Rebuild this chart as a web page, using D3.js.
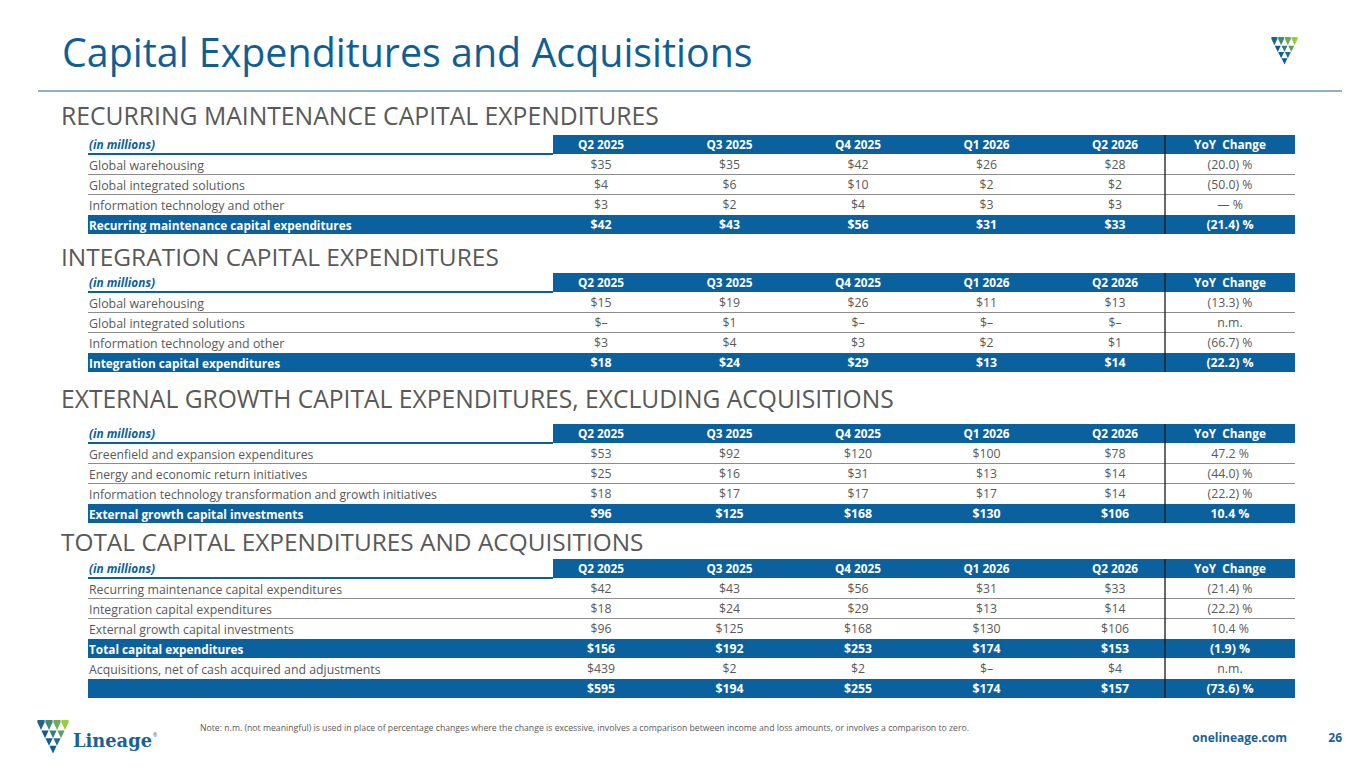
<!DOCTYPE html>
<html><head><meta charset="utf-8">
<script src="https://cdn.jsdelivr.net/npm/d3@7"></script>
<style>html,body{margin:0;padding:0;background:#fff;overflow:hidden}</style>
</head><body>
<svg id="c" width="1365" height="768"></svg>
<script>
// ---------- DATA ----------
const quarters = ["Q2 2025","Q3 2025","Q4 2025","Q1 2026","Q2 2026"];
const yoyHeader = "YoY  Change";
const unitLabel = "(in millions)";

const maintLabels = ["Global warehousing","Global integrated solutions","Information technology and other","Recurring maintenance capital expenditures"];
const maintValues = [[35,35,42,26,28],[4,6,10,2,2],[3,2,4,3,3],[42,43,56,31,33]];
const maintYoY = ["(20.0) %","(50.0) %","— %","(21.4) %"];

const integLabels = ["Global warehousing","Global integrated solutions","Information technology and other","Integration capital expenditures"];
const integValues = [[15,19,26,11,13],[null,1,null,null,null],[3,4,3,2,1],[18,24,29,13,14]];
const integYoY = ["(13.3) %","n.m.","(66.7) %","(22.2) %"];

const extLabels = ["Greenfield and expansion expenditures","Energy and economic return initiatives","Information technology transformation and growth initiatives","External growth capital investments"];
const extValues = [[53,92,120,100,78],[25,16,31,13,14],[18,17,17,17,14],[96,125,168,130,106]];
const extYoY = ["47.2 %","(44.0) %","(22.2) %","10.4 %"];

const totLabels = ["Recurring maintenance capital expenditures","Integration capital expenditures","External growth capital investments","Total capital expenditures","Acquisitions, net of cash acquired and adjustments",""];
const totValues = [[42,43,56,31,33],[18,24,29,13,14],[96,125,168,130,106],[156,192,253,174,153],[439,2,2,null,4],[595,194,255,174,157]];
const totYoY = ["(21.4) %","(22.2) %","10.4 %","(1.9) %","n.m.","(73.6) %"];
const totHighlight = [false,false,false,true,false,true];

const sections = [
  {title:"RECURRING MAINTENANCE CAPITAL EXPENDITURES", labels:maintLabels, values:maintValues, yoy:maintYoY, hl:[false,false,false,true]},
  {title:"INTEGRATION CAPITAL EXPENDITURES", labels:integLabels, values:integValues, yoy:integYoY, hl:[false,false,false,true]},
  {title:"EXTERNAL GROWTH CAPITAL EXPENDITURES, EXCLUDING ACQUISITIONS", labels:extLabels, values:extValues, yoy:extYoY, hl:[false,false,false,true]},
  {title:"TOTAL CAPITAL EXPENDITURES AND ACQUISITIONS", labels:totLabels, values:totValues, yoy:totYoY, hl:totHighlight}
];
const noteText = "Note: n.m. (not meaningful) is used in place of percentage changes where the change is excessive, involves a comparison between income and loss amounts, or involves a comparison to zero.";

// ---------- STYLE / LAYOUT ----------
const BLUE = "#0b619d", GRAY = "#595959", TITLE = "#0f5f94";
const FONT = "'Open Sans', 'Noto Sans', sans-serif";
const svg = d3.select("#c");
const fmt = v => v == null ? "$–" : "$" + v;

function fit(sel, w){
  const cur = sel.node().getComputedTextLength();
  const fs = parseFloat(sel.attr("font-size"));
  sel.attr("font-size", fs * w / cur);
  return sel;
}

// Title
fit(svg.append("text").attr("x",62).attr("y",67).attr("font-family",FONT)
  .attr("font-size",36).attr("fill",TITLE).text("Capital Expenditures and Acquisitions"), 691);
svg.append("line").attr("x1",38).attr("x2",1342).attr("y1",91).attr("y2",91)
  .attr("stroke","#8fb0c6").attr("stroke-width",1.8);

// Column scales
const tableLeft = 88, tableRight = 1295, headLeft = 553, divX = 1165;
const xq = d3.scalePoint().domain(quarters).range([601,1115]);
const xYoY = (divX + tableRight) / 2;
const rowH = 20;

const headingY = [125, 266, 408, 551];
const tableTop = [135, 273, 424, 559];
const headingW = [598, 438, 833, 583];
const labelSize = [12.4, 12.4, 12.2, 12.3];

sections.forEach((s, si) => {
  fit(svg.append("text").attr("x",61).attr("y",headingY[si]).attr("font-family",FONT)
    .attr("font-size",22).attr("fill",GRAY).text(s.title), headingW[si]);

  const top = tableTop[si];
  const nRows = s.labels.length;
  const yRow = d3.scaleBand().domain(d3.range(nRows + 1)).range([top, top + rowH*(nRows+1)]);
  const g = svg.append("g");

  g.append("rect").attr("x",headLeft).attr("y",top).attr("width",tableRight-headLeft).attr("height",rowH-1).attr("fill",BLUE);
  g.append("line").attr("x1",tableLeft).attr("x2",headLeft).attr("y1",top+rowH-1).attr("y2",top+rowH-1)
    .attr("stroke",BLUE).attr("stroke-width",2);
  g.append("text").attr("x",89).attr("y",top+14).attr("font-family",FONT).attr("font-size",11.8)
    .attr("font-weight","bold").attr("font-style","italic").attr("fill",BLUE).text(unitLabel);
  g.selectAll(".qh").data(quarters).join("text")
    .attr("x",d=>xq(d)).attr("y",top+14).attr("text-anchor","middle").attr("font-family",FONT)
    .attr("font-size",11.8).attr("font-weight","bold").attr("fill","#fff").text(d=>d);
  g.append("text").attr("x",xYoY).attr("y",top+14).attr("text-anchor","middle").attr("font-family",FONT)
    .attr("font-size",11.8).attr("font-weight","bold").attr("fill","#fff").attr("xml:space","preserve").text(yoyHeader);

  s.labels.forEach((lab, ri) => {
    const y0 = yRow(ri+1);
    const hl = s.hl[ri];
    if (hl) {
      g.append("rect").attr("x",tableLeft).attr("y",y0).attr("width",tableRight-tableLeft).attr("height",rowH-1).attr("fill",BLUE);
    } else {
      const nextHl = s.hl[ri+1];
      if (ri < nRows-1 && !nextHl)
        g.append("line").attr("x1",tableLeft).attr("x2",tableRight).attr("y1",y0+rowH-0.5).attr("y2",y0+rowH-0.5)
          .attr("stroke","#8c8c8c").attr("stroke-width",1.2);
    }
    const col = hl ? "#fff" : GRAY;
    const fw = hl ? "bold" : "normal";
    g.append("text").attr("x",89).attr("y",y0+14.5).attr("font-family",FONT).attr("font-size",hl ? 11.8 : labelSize[si])
      .attr("font-weight",fw).attr("fill",col).text(lab);
    g.selectAll(null).data(s.values[ri]).join("text")
      .attr("x",(d,i)=>xq(quarters[i])).attr("y",y0+13.5).attr("text-anchor","middle")
      .attr("font-family",FONT).attr("font-size",12.3).attr("font-weight",fw).attr("fill",col).text(fmt);
    g.append("text").attr("x",xYoY).attr("y",y0+13.5).attr("text-anchor","middle")
      .attr("font-family",FONT).attr("font-size",12.3).attr("font-weight",fw).attr("fill",col).text(s.yoy[ri]);
  });
  g.append("line").attr("x1",divX).attr("x2",divX).attr("y1",top).attr("y2",top+rowH*(nRows+1)-1)
    .attr("stroke","#1a1a1a").attr("stroke-width",1.3);
});

// ---------- LOGOS ----------
function shield(x0, y0, W, H){
  const g = svg.append("g").attr("transform",`translate(${x0},${y0})`);
  const w = W/4, h = H/4.3;
  const col = d3.interpolateRgb("#0d5a98","#9acd3c");
  const tris = [];
  for (let r=0;r<4;r++){
    for (let c=0;c<4-r;c++){
      const xl = r*w/2 + c*w;
      tris.push({xl, r, t: Math.max(0, Math.min(1, c/3*0.9 + 0.1 - r*0.12))});
    }
  }
  g.selectAll("path").data(tris).join("path")
    .attr("d",d=>{
      const gap = 0.4;
      if (d.r === 0) {
        const yb = h*1.3;
        return `M${d.xl+gap},0L${d.xl+w-gap},0L${d.xl+w-gap},${h*0.3}L${d.xl+w/2},${yb}L${d.xl+gap},${h*0.3}Z`;
      }
      const yt = h*0.3 + d.r*h + 0.5, yb = yt + h;
      return `M${d.xl+gap},${yt}L${d.xl+w-gap},${yt}L${d.xl+w/2},${yb}Z`;
    })
    .attr("fill",d=>col(d.t));
  return g;
}
shield(1271, 37, 27, 27);
shield(37, 720, 32, 33);

fit(svg.append("text").attr("x",73).attr("y",747).attr("font-family","'DejaVu Serif', serif").attr("font-weight","bold")
  .attr("font-size",20).attr("fill","#1a6198").text("Lineage"), 79);
svg.append("text").attr("x",153).attr("y",737).attr("font-family",FONT).attr("font-size",5).attr("fill","#1a6198").text("®");

fit(svg.append("text").attr("x",200).attr("y",731).attr("font-family",FONT).attr("font-size",7.5)
  .attr("fill",GRAY).text(noteText), 770);

svg.append("text").attr("x",1287).attr("y",742).attr("text-anchor","end").attr("font-family",FONT)
  .attr("font-size",12).attr("font-weight","bold").attr("fill","#1a6198").text("onelineage.com");
svg.append("text").attr("x",1342).attr("y",742).attr("text-anchor","end").attr("font-family",FONT)
  .attr("font-size",12).attr("font-weight","bold").attr("fill","#1a6198").text("26");
</script>
</body></html>
